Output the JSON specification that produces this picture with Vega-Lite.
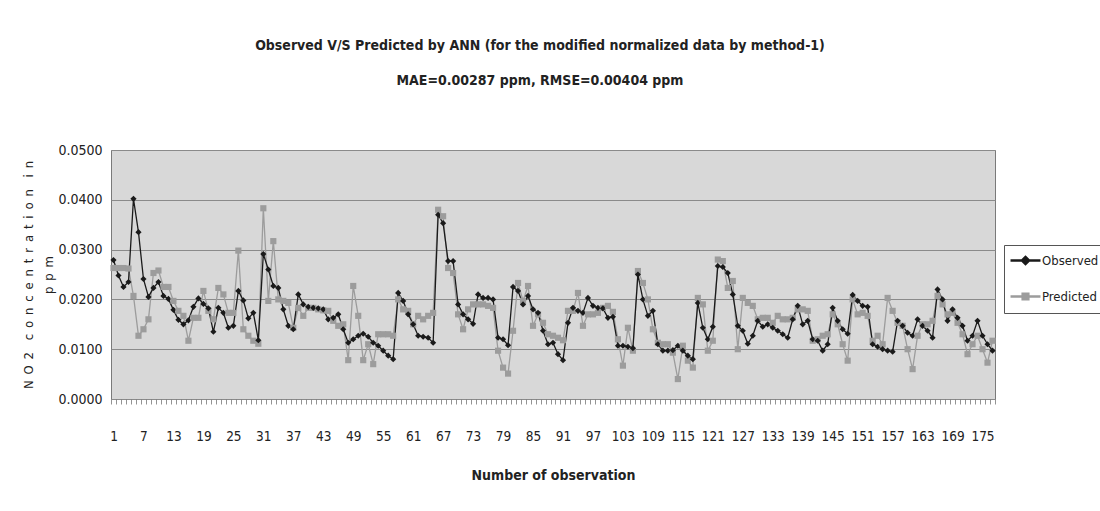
{
  "$schema": "https://vega.github.io/schema/vega-lite/v6.json",
  "autosize": {"type": "none"},
  "width": 884,
  "height": 249,
  "padding": {"left": 111, "top": 150, "right": 105, "bottom": 112},
  "background": "white",
  "config": {
    "font": "DejaVu Sans Condensed, sans-serif",
    "view": {"fill": "#d8d8d8", "stroke": "#7a7a7a", "strokeWidth": 1}
  },
  "title": {
    "text": ["Observed V/S Predicted by ANN (for the modified normalized data by method-1)", "MAE=0.00287 ppm, RMSE=0.00404 ppm"],
    "fontSize": 14,
    "fontWeight": "bold",
    "color": "#222222",
    "lineHeight": 35,
    "anchor": "middle",
    "dx": -13,
    "offset": 55
  },
  "data": {
    "values": [
      {"n":1,"Observed":0.0279,"Predicted":0.0263},
      {"n":2,"Observed":0.0248,"Predicted":0.0263},
      {"n":3,"Observed":0.0225,"Predicted":0.0263},
      {"n":4,"Observed":0.0235,"Predicted":0.0262},
      {"n":5,"Observed":0.0402,"Predicted":0.0207},
      {"n":6,"Observed":0.0335,"Predicted":0.0127},
      {"n":7,"Observed":0.0241,"Predicted":0.0140},
      {"n":8,"Observed":0.0205,"Predicted":0.0160},
      {"n":9,"Observed":0.0223,"Predicted":0.0253},
      {"n":10,"Observed":0.0235,"Predicted":0.0258},
      {"n":11,"Observed":0.0207,"Predicted":0.0225},
      {"n":12,"Observed":0.0201,"Predicted":0.0225},
      {"n":13,"Observed":0.0179,"Predicted":0.0197},
      {"n":14,"Observed":0.0159,"Predicted":0.0177},
      {"n":15,"Observed":0.0150,"Predicted":0.0167},
      {"n":16,"Observed":0.0158,"Predicted":0.0117},
      {"n":17,"Observed":0.0185,"Predicted":0.0163},
      {"n":18,"Observed":0.0202,"Predicted":0.0163},
      {"n":19,"Observed":0.0191,"Predicted":0.0217},
      {"n":20,"Observed":0.0182,"Predicted":0.0177},
      {"n":21,"Observed":0.0135,"Predicted":0.0160},
      {"n":22,"Observed":0.0183,"Predicted":0.0223},
      {"n":23,"Observed":0.0173,"Predicted":0.0210},
      {"n":24,"Observed":0.0143,"Predicted":0.0173},
      {"n":25,"Observed":0.0147,"Predicted":0.0173},
      {"n":26,"Observed":0.0217,"Predicted":0.0298},
      {"n":27,"Observed":0.0198,"Predicted":0.0140},
      {"n":28,"Observed":0.0162,"Predicted":0.0127},
      {"n":29,"Observed":0.0173,"Predicted":0.0117},
      {"n":30,"Observed":0.0118,"Predicted":0.0111},
      {"n":31,"Observed":0.0291,"Predicted":0.0383},
      {"n":32,"Observed":0.0260,"Predicted":0.0197},
      {"n":33,"Observed":0.0227,"Predicted":0.0317},
      {"n":34,"Observed":0.0223,"Predicted":0.0200},
      {"n":35,"Observed":0.0180,"Predicted":0.0197},
      {"n":36,"Observed":0.0147,"Predicted":0.0193},
      {"n":37,"Observed":0.0140,"Predicted":0.0143},
      {"n":38,"Observed":0.0210,"Predicted":0.0183},
      {"n":39,"Observed":0.0190,"Predicted":0.0167},
      {"n":40,"Observed":0.0185,"Predicted":0.0183},
      {"n":41,"Observed":0.0183,"Predicted":0.0183},
      {"n":42,"Observed":0.0182,"Predicted":0.0180},
      {"n":43,"Observed":0.0180,"Predicted":0.0178},
      {"n":44,"Observed":0.0160,"Predicted":0.0177},
      {"n":45,"Observed":0.0163,"Predicted":0.0157},
      {"n":46,"Observed":0.0170,"Predicted":0.0147},
      {"n":47,"Observed":0.0140,"Predicted":0.0150},
      {"n":48,"Observed":0.0113,"Predicted":0.0078},
      {"n":49,"Observed":0.0120,"Predicted":0.0227},
      {"n":50,"Observed":0.0127,"Predicted":0.0167},
      {"n":51,"Observed":0.0131,"Predicted":0.0078},
      {"n":52,"Observed":0.0125,"Predicted":0.0110},
      {"n":53,"Observed":0.0113,"Predicted":0.0070},
      {"n":54,"Observed":0.0107,"Predicted":0.0130},
      {"n":55,"Observed":0.0097,"Predicted":0.0130},
      {"n":56,"Observed":0.0087,"Predicted":0.0130},
      {"n":57,"Observed":0.0080,"Predicted":0.0127},
      {"n":58,"Observed":0.0213,"Predicted":0.0200},
      {"n":59,"Observed":0.0197,"Predicted":0.0180},
      {"n":60,"Observed":0.0170,"Predicted":0.0177},
      {"n":61,"Observed":0.0150,"Predicted":0.0150},
      {"n":62,"Observed":0.0127,"Predicted":0.0167},
      {"n":63,"Observed":0.0125,"Predicted":0.0160},
      {"n":64,"Observed":0.0123,"Predicted":0.0167},
      {"n":65,"Observed":0.0113,"Predicted":0.0173},
      {"n":66,"Observed":0.0370,"Predicted":0.0380},
      {"n":67,"Observed":0.0353,"Predicted":0.0367},
      {"n":68,"Observed":0.0277,"Predicted":0.0263},
      {"n":69,"Observed":0.0277,"Predicted":0.0253},
      {"n":70,"Observed":0.0190,"Predicted":0.0170},
      {"n":71,"Observed":0.0170,"Predicted":0.0140},
      {"n":72,"Observed":0.0160,"Predicted":0.0180},
      {"n":73,"Observed":0.0151,"Predicted":0.0190},
      {"n":74,"Observed":0.0210,"Predicted":0.0190},
      {"n":75,"Observed":0.0203,"Predicted":0.0190},
      {"n":76,"Observed":0.0203,"Predicted":0.0187},
      {"n":77,"Observed":0.0200,"Predicted":0.0183},
      {"n":78,"Observed":0.0123,"Predicted":0.0097},
      {"n":79,"Observed":0.0120,"Predicted":0.0063},
      {"n":80,"Observed":0.0108,"Predicted":0.0051},
      {"n":81,"Observed":0.0225,"Predicted":0.0137},
      {"n":82,"Observed":0.0217,"Predicted":0.0233},
      {"n":83,"Observed":0.0190,"Predicted":0.0197},
      {"n":84,"Observed":0.0207,"Predicted":0.0227},
      {"n":85,"Observed":0.0180,"Predicted":0.0147},
      {"n":86,"Observed":0.0173,"Predicted":0.0170},
      {"n":87,"Observed":0.0137,"Predicted":0.0153},
      {"n":88,"Observed":0.0110,"Predicted":0.0130},
      {"n":89,"Observed":0.0113,"Predicted":0.0127},
      {"n":90,"Observed":0.0090,"Predicted":0.0123},
      {"n":91,"Observed":0.0078,"Predicted":0.0118},
      {"n":92,"Observed":0.0153,"Predicted":0.0177},
      {"n":93,"Observed":0.0183,"Predicted":0.0177},
      {"n":94,"Observed":0.0177,"Predicted":0.0213},
      {"n":95,"Observed":0.0173,"Predicted":0.0147},
      {"n":96,"Observed":0.0203,"Predicted":0.0170},
      {"n":97,"Observed":0.0187,"Predicted":0.0170},
      {"n":98,"Observed":0.0183,"Predicted":0.0173},
      {"n":99,"Observed":0.0182,"Predicted":0.0183},
      {"n":100,"Observed":0.0163,"Predicted":0.0187},
      {"n":101,"Observed":0.0165,"Predicted":0.0175},
      {"n":102,"Observed":0.0107,"Predicted":0.0120},
      {"n":103,"Observed":0.0107,"Predicted":0.0067},
      {"n":104,"Observed":0.0105,"Predicted":0.0143},
      {"n":105,"Observed":0.0102,"Predicted":0.0097},
      {"n":106,"Observed":0.0250,"Predicted":0.0257},
      {"n":107,"Observed":0.0200,"Predicted":0.0233},
      {"n":108,"Observed":0.0167,"Predicted":0.0200},
      {"n":109,"Observed":0.0177,"Predicted":0.0140},
      {"n":110,"Observed":0.0110,"Predicted":0.0113},
      {"n":111,"Observed":0.0097,"Predicted":0.0110},
      {"n":112,"Observed":0.0097,"Predicted":0.0110},
      {"n":113,"Observed":0.0098,"Predicted":0.0093},
      {"n":114,"Observed":0.0107,"Predicted":0.0040},
      {"n":115,"Observed":0.0097,"Predicted":0.0107},
      {"n":116,"Observed":0.0087,"Predicted":0.0077},
      {"n":117,"Observed":0.0080,"Predicted":0.0063},
      {"n":118,"Observed":0.0193,"Predicted":0.0203},
      {"n":119,"Observed":0.0143,"Predicted":0.0190},
      {"n":120,"Observed":0.0120,"Predicted":0.0097},
      {"n":121,"Observed":0.0145,"Predicted":0.0117},
      {"n":122,"Observed":0.0267,"Predicted":0.0280},
      {"n":123,"Observed":0.0265,"Predicted":0.0277},
      {"n":124,"Observed":0.0253,"Predicted":0.0223},
      {"n":125,"Observed":0.0210,"Predicted":0.0237},
      {"n":126,"Observed":0.0147,"Predicted":0.0100},
      {"n":127,"Observed":0.0137,"Predicted":0.0203},
      {"n":128,"Observed":0.0111,"Predicted":0.0193},
      {"n":129,"Observed":0.0127,"Predicted":0.0187},
      {"n":130,"Observed":0.0157,"Predicted":0.0160},
      {"n":131,"Observed":0.0145,"Predicted":0.0163},
      {"n":132,"Observed":0.0150,"Predicted":0.0163},
      {"n":133,"Observed":0.0143,"Predicted":0.0153},
      {"n":134,"Observed":0.0137,"Predicted":0.0167},
      {"n":135,"Observed":0.0130,"Predicted":0.0160},
      {"n":136,"Observed":0.0123,"Predicted":0.0160},
      {"n":137,"Observed":0.0160,"Predicted":0.0163},
      {"n":138,"Observed":0.0187,"Predicted":0.0180},
      {"n":139,"Observed":0.0150,"Predicted":0.0180},
      {"n":140,"Observed":0.0157,"Predicted":0.0177},
      {"n":141,"Observed":0.0120,"Predicted":0.0117},
      {"n":142,"Observed":0.0117,"Predicted":0.0120},
      {"n":143,"Observed":0.0097,"Predicted":0.0127},
      {"n":144,"Observed":0.0110,"Predicted":0.0130},
      {"n":145,"Observed":0.0183,"Predicted":0.0170},
      {"n":146,"Observed":0.0157,"Predicted":0.0150},
      {"n":147,"Observed":0.0140,"Predicted":0.0110},
      {"n":148,"Observed":0.0131,"Predicted":0.0077},
      {"n":149,"Observed":0.0209,"Predicted":0.0200},
      {"n":150,"Observed":0.0197,"Predicted":0.0170},
      {"n":151,"Observed":0.0187,"Predicted":0.0173},
      {"n":152,"Observed":0.0185,"Predicted":0.0167},
      {"n":153,"Observed":0.0110,"Predicted":0.0117},
      {"n":154,"Observed":0.0105,"Predicted":0.0127},
      {"n":155,"Observed":0.0100,"Predicted":0.0110},
      {"n":156,"Observed":0.0097,"Predicted":0.0203},
      {"n":157,"Observed":0.0095,"Predicted":0.0177},
      {"n":158,"Observed":0.0157,"Predicted":0.0153},
      {"n":159,"Observed":0.0147,"Predicted":0.0147},
      {"n":160,"Observed":0.0133,"Predicted":0.0100},
      {"n":161,"Observed":0.0127,"Predicted":0.0060},
      {"n":162,"Observed":0.0160,"Predicted":0.0127},
      {"n":163,"Observed":0.0147,"Predicted":0.0150},
      {"n":164,"Observed":0.0137,"Predicted":0.0150},
      {"n":165,"Observed":0.0123,"Predicted":0.0157},
      {"n":166,"Observed":0.0220,"Predicted":0.0207},
      {"n":167,"Observed":0.0200,"Predicted":0.0190},
      {"n":168,"Observed":0.0157,"Predicted":0.0170},
      {"n":169,"Observed":0.0180,"Predicted":0.0173},
      {"n":170,"Observed":0.0163,"Predicted":0.0153},
      {"n":171,"Observed":0.0147,"Predicted":0.0130},
      {"n":172,"Observed":0.0117,"Predicted":0.0090},
      {"n":173,"Observed":0.0127,"Predicted":0.0110},
      {"n":174,"Observed":0.0157,"Predicted":0.0127},
      {"n":175,"Observed":0.0127,"Predicted":0.0100},
      {"n":176,"Observed":0.0110,"Predicted":0.0073},
      {"n":177,"Observed":0.0097,"Predicted":0.0117}
    ]
  },
  "transform": [{"fold": ["Predicted", "Observed"], "as": ["series", "value"]}],
  "encoding": {
    "y": {
      "field": "value", "type": "quantitative",
      "scale": {"domain": [0, 0.05], "nice": false, "zero": true},
      "axis": {
        "values": [0, 0.01, 0.02, 0.03, 0.04, 0.05],
        "format": ".4f",
        "labelFontSize": 14, "labelColor": "#222222", "labelPadding": 9,
        "ticks": false, "domain": false,
        "grid": true, "gridColor": "#8a8a8a", "gridWidth": 1,
        "title": ["N\u2002O\u20022\u2002\u2002c\u2002o\u2002n\u2002c\u2002e\u2002n\u2002t\u2002r\u2002a\u2002t\u2002i\u2002o\u2002n\u2002\u2002i\u2002n", "p\u2002p\u2002m"],
        "titleFontSize": 13, "titleFontWeight": "normal", "titleColor": "#222222",
        "titleLineHeight": 20, "titlePadding": 2
      }
    },
    "color": {
      "field": "series", "type": "nominal",
      "scale": {"domain": ["Observed", "Predicted"], "range": ["#1a1a1a", "#9c9c9c"]},
      "legend": null
    }
  },
  "layer": [
    {
      "mark": {"type": "line", "strokeWidth": 1.3},
      "encoding": {
        "x": {
          "field": "n", "type": "quantitative",
          "scale": {"domain": [0.5, 177.5], "nice": false, "zero": false},
          "axis": {
            "orient": "bottom",
            "values": [1, 7, 13, 19, 25, 31, 37, 43, 49, 55, 61, 67, 73, 79, 85, 91, 97, 103, 109, 115, 121, 127, 133, 139, 145, 151, 157, 163, 169, 175],
            "labelFontSize": 13.5, "labelColor": "#222222", "labelPadding": 30,
            "ticks": false, "grid": false, "domain": false,
            "title": "Number of observation",
            "titleFontSize": 14, "titleFontWeight": "bold", "titleColor": "#222222",
            "titlePadding": 26
          }
        },
        "color": {
          "field": "series", "type": "nominal",
          "scale": {"domain": ["Observed", "Predicted"], "range": ["#1a1a1a", "#9c9c9c"]},
          "legend": {
            "title": null,
            "orient": "none",
            "legendX": 893,
            "legendY": 95,
            "direction": "vertical",
            "fillColor": "white",
            "strokeColor": "#555555",
            "padding": 9,
            "symbolOffset": 6,
            "labelFontSize": 13,
            "labelColor": "#222222",
            "labelOffset": 10,
            "rowPadding": 22,
            "symbolSize": 90,
            "symbolType": "M-3,-0.13L3,-0.13L3,0.13L-3,0.13ZM0,-0.9L0.9,0L0,0.9L-0.9,0Z",
            "encode": {
              "symbols": {
                "update": {
                  "shape": {"signal": "datum.value === 'Observed' ? 'M-3,-0.13L3,-0.13L3,0.13L-3,0.13ZM0,-0.9L0.9,0L0,0.9L-0.9,0Z' : 'M-3,-0.13L3,-0.13L3,0.13L-3,0.13ZM-0.7,-0.7L0.7,-0.7L0.7,0.7L-0.7,0.7Z'"},
                  "fill": {"signal": "datum.value === 'Observed' ? '#1a1a1a' : '#9c9c9c'"},
                  "stroke": {"value": "transparent"},
                  "fillOpacity": {"value": 1},
                  "opacity": {"value": 1}
                }
              }
            }
          }
        }
      }
    },
    {
      "mark": {"type": "point", "filled": true, "opacity": 1, "size": 38},
      "encoding": {
        "x": {
          "field": "n", "type": "quantitative",
          "scale": {"domain": [0.5, 177.5], "nice": false, "zero": false},
          "axis": {
            "orient": "bottom",
            "values": [0.5,1.5,2.5,3.5,4.5,5.5,6.5,7.5,8.5,9.5,10.5,11.5,12.5,13.5,14.5,15.5,16.5,17.5,18.5,19.5,20.5,21.5,22.5,23.5,24.5,25.5,26.5,27.5,28.5,29.5,30.5,31.5,32.5,33.5,34.5,35.5,36.5,37.5,38.5,39.5,40.5,41.5,42.5,43.5,44.5,45.5,46.5,47.5,48.5,49.5,50.5,51.5,52.5,53.5,54.5,55.5,56.5,57.5,58.5,59.5,60.5,61.5,62.5,63.5,64.5,65.5,66.5,67.5,68.5,69.5,70.5,71.5,72.5,73.5,74.5,75.5,76.5,77.5,78.5,79.5,80.5,81.5,82.5,83.5,84.5,85.5,86.5,87.5,88.5,89.5,90.5,91.5,92.5,93.5,94.5,95.5,96.5,97.5,98.5,99.5,100.5,101.5,102.5,103.5,104.5,105.5,106.5,107.5,108.5,109.5,110.5,111.5,112.5,113.5,114.5,115.5,116.5,117.5,118.5,119.5,120.5,121.5,122.5,123.5,124.5,125.5,126.5,127.5,128.5,129.5,130.5,131.5,132.5,133.5,134.5,135.5,136.5,137.5,138.5,139.5,140.5,141.5,142.5,143.5,144.5,145.5,146.5,147.5,148.5,149.5,150.5,151.5,152.5,153.5,154.5,155.5,156.5,157.5,158.5,159.5,160.5,161.5,162.5,163.5,164.5,165.5,166.5,167.5,168.5,169.5,170.5,171.5,172.5,173.5,174.5,175.5,176.5,177.5],
            "labels": false, "title": null, "grid": false, "domain": false,
            "ticks": true, "tickSize": 5, "tickColor": "#777777", "tickWidth": 0.8
          }
        },
        "shape": {
          "condition": {"test": "datum.series === 'Observed'", "value": "diamond"},
          "value": "square"
        }
      }
    }
  ],
  "resolve": {"axis": {"x": "independent"}}
}
